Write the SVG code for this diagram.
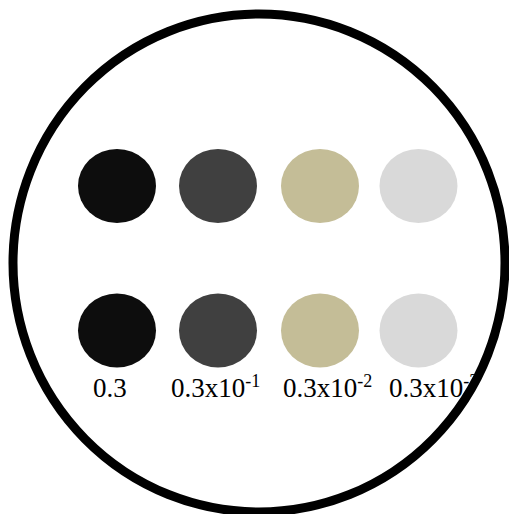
<svg xmlns="http://www.w3.org/2000/svg" width="509" height="514" viewBox="0 0 509 514">
<style>
.lbl{font-family:"Liberation Serif","Times New Roman",serif;font-size:27px;fill:#000}
.sup{font-size:18px}
</style>
<rect width="509" height="514" fill="#fff"/>
<g id="outer"><ellipse cx="259" cy="263" rx="246" ry="249" fill="none" stroke="#000" stroke-width="9"/></g>
<g id="row1">
<ellipse cx="117" cy="186" rx="39" ry="37" fill="#0d0d0d"/>
<ellipse cx="218" cy="186" rx="39" ry="37" fill="#404040"/>
<ellipse cx="320" cy="186" rx="39" ry="37" fill="#c4bd97"/>
<ellipse cx="418.5" cy="186" rx="39" ry="37" fill="#d9d9d9"/>
</g>
<g id="row2">
<ellipse cx="117" cy="330.5" rx="39" ry="37" fill="#0d0d0d"/>
<ellipse cx="218" cy="330.5" rx="39" ry="37" fill="#404040"/>
<ellipse cx="320" cy="330.5" rx="39" ry="37" fill="#c4bd97"/>
<ellipse cx="418.5" cy="330.5" rx="39" ry="37" fill="#d9d9d9"/>
</g>
<g id="labels">
<text class="lbl" x="93" y="396.5">0.3</text>
<text class="lbl" x="171" y="396.5">0.3x10<tspan class="sup" dy="-10">-1</tspan></text>
<text class="lbl" x="283" y="396.5">0.3x10<tspan class="sup" dy="-10">-2</tspan></text>
<text class="lbl" x="389" y="396.5">0.3x10<tspan class="sup" dy="-10">-3</tspan></text>
</g>
</svg>
